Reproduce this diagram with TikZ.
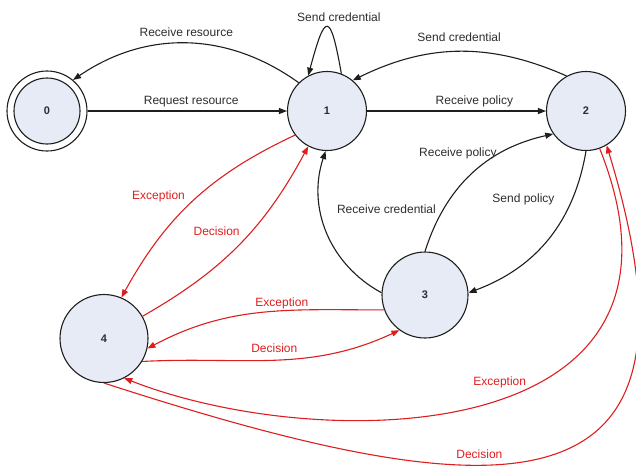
\documentclass[tikz,border=0pt]{standalone}
\usepackage{fontspec}
\setmainfont{Liberation Sans}
\usetikzlibrary{arrows.meta}
\definecolor{nodefill}{RGB}{230,235,246}
\definecolor{myred}{RGB}{222,30,30}
\definecolor{edgegray}{RGB}{30,30,30}
\definecolor{txtgray}{RGB}{45,45,45}
\tikzset{
  st/.style={circle, draw=edgegray, line width=1.1pt, fill=nodefill, inner sep=0pt,
    font=\bfseries\fontsize{11}{13}\selectfont, text=txtgray},
  blk/.style={draw=edgegray, line width=1.1pt, -{Triangle[length=8pt,width=6pt]}},
  redl/.style={draw=myred, line width=1.1pt, -{Triangle[length=8pt,width=6pt]}},
  lbl/.style={font=\fontsize{12}{14}\selectfont, text=txtgray, inner sep=1pt},
  rlbl/.style={lbl, text=myred},
}
\begin{document}
\begin{tikzpicture}[x=1pt,y=1pt]
\useasboundingbox (0,0) rectangle (636,-467);
% states
\node[st, fill=white, minimum size=80pt] (n0) at (47,-111) {};
\node[st, minimum size=66pt] (n0i) at (n0.center) {0};
\node[st, minimum size=79pt] (n1) at (327,-111) {1};
\node[st, minimum size=79pt] (n2) at (586,-111) {2};
\node[st, minimum size=86pt] (n3) at (425,-295) {3};
\node[st, minimum size=88pt] (n4) at (104,-338.5) {4};
% black transitions
\draw[blk] (n0) -- node[lbl, above=2pt, pos=0.52] (l1) {Request resource} (n1);
\draw[blk] (n1.135) to[bend right=35] node[lbl, above=5pt] (l2) {Receive resource} (n0.50);
\draw[blk] (n1.69) to[out=100,in=75,looseness=5] node[lbl, above=4pt, xshift=12pt] (l3) {Send credential} (n1.118);
\draw[blk] (n1) -- node[lbl, above=2pt, pos=0.6] (l4) {Receive policy} (n2);
\draw[blk] (n2.119) to[bend right=25] node[lbl, above=8pt] (l5) {Send credential} (n1.50);
\draw[blk] (n3.90) to[bend left=30] node[lbl, pos=0.7, left=2pt] (l6) {Receive policy} (n2.215);
\draw[blk] (n2.270) to[bend left=30] node[lbl, pos=0.25, left=16pt] (l7) {Send policy} (n3.3);
\draw[blk] (n3.177) to[bend left=40] node[lbl, pos=0.65, right=15pt] (l8) {Receive credential} (n1.268);
% red transitions
\draw[redl] (n1.217) to[bend right=18] node[rlbl, pos=0.47, left=12pt] (l9) {Exception} (n4.67);
\draw[redl] (n4.30) to[bend right=16] node[rlbl, pos=0.58, left=10pt] (l10) {Decision} (n1.242);
\draw[redl] (n3.200) to[out=180,in=28] node[rlbl, pos=0.41, above=0pt] (l11) {Exception} (n4.347);
\draw[redl] (n4.329) to[out=3,in=205] node[rlbl, pos=0.5, above=6pt] (l12) {Decision} (n3.234);
\draw[redl] (n2.290) .. controls (720,-450) and (320,-455) .. node[rlbl, pos=0.47, above=10pt] (l13) {Exception} (n4.297);
\draw[redl] (n4.270) .. controls (502,-512) and (723,-526) .. node[rlbl, pos=0.39, above=5pt] (l14) {Decision} (n2.301);
\end{tikzpicture}
\end{document}
